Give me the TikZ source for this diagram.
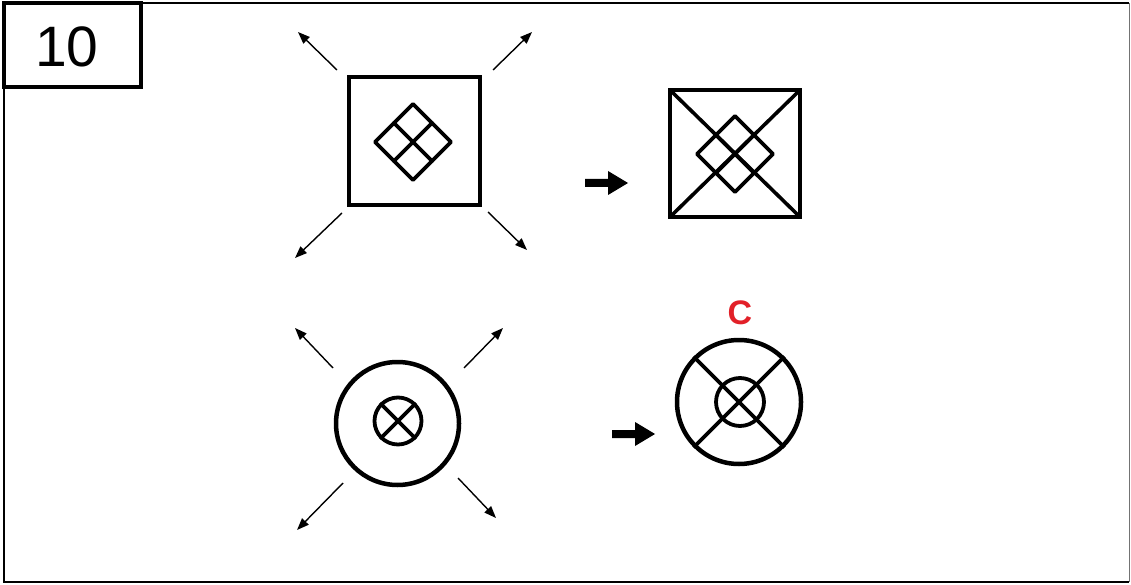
\documentclass[tikz,border=0pt]{standalone}
\usepackage{fontspec}
\setmainfont{Liberation Sans}
\usetikzlibrary{arrows.meta}
\definecolor{labelred}{RGB}{226,32,40}
\begin{document}
\begin{tikzpicture}[x=1pt,y=-1pt,
  thin arrow/.style={line width=1.4pt,-{Triangle[length=12pt,width=9pt]}},
  heavy/.style={line width=4.5pt},
  inner line/.style={line width=3.6pt,line join=round,line cap=round},
  fat arrow/.style={fill=black,draw=none}]
\useasboundingbox (0,0) rectangle (1131,585);
\fill[white] (0,0) rectangle (1131,585);
% outer frame
\draw[line width=2.8pt] (1129,3) -- (4,3) -- (4,582) -- (1129,582);
\draw[line width=1pt,black!55] (1129.5,3) -- (1129.5,582);
% number box
\draw[line width=3.4pt] (4,3) rectangle (141,87);
\node[font=\fontsize{57}{57}\selectfont] (num) at (67,47) {10};

% ---------- top row: expanding square ----------
\draw[heavy] (349,77) rectangle (480,205);
\draw[inner line] (413,104) -- (451,142) -- (413,180) -- (375,142) -- cycle;
\draw[inner line] (394,123) -- (432,161);
\draw[inner line] (432,123) -- (394,161);
\draw[thin arrow] (337,70) -- (298,32);
\draw[thin arrow] (493,70) -- (532,32);
\draw[thin arrow] (342,213) -- (295,258);
\draw[thin arrow] (488,212) -- (527,250);

% fat arrow
\fill[fat arrow] (585,179) -- (608,179) -- (608,171) -- (628,183) -- (608,195) -- (608,187) -- (585,187) -- cycle;

% result square
\draw[heavy] (670,90) rectangle (800,217);
\draw[inner line] (670,90) -- (800,217);
\draw[inner line] (800,90) -- (670,217);
\draw[inner line] (735,116) -- (773,154) -- (735,192) -- (697,154) -- cycle;
\draw[inner line] (716,135) -- (754,173);
\draw[inner line] (754,135) -- (716,173);

% ---------- bottom row: expanding circle ----------
\node[circle,draw,line width=4.5pt,minimum size=123pt,inner sep=0pt] (oc) at (397.5,423.5) {};
\node[circle,draw,line width=3.8pt,minimum size=47pt,inner sep=0pt] (ic) at (398,421) {};
\draw[line width=3.6pt] (ic.north west) -- (ic.south east);
\draw[line width=3.6pt] (ic.north east) -- (ic.south west);
\draw[thin arrow] (333,368) -- (295,328);
\draw[thin arrow] (464,368) -- (503,328);
\draw[thin arrow] (343,483) -- (297,530);
\draw[thin arrow] (458,478) -- (496,518);

\fill[fat arrow] (612,430) -- (635,430) -- (635,422) -- (655,434) -- (635,446) -- (635,438) -- (612,438) -- cycle;

\node[circle,draw,line width=4.5pt,minimum size=124pt,inner sep=0pt] (roc) at (739,402) {};
\node[circle,draw,line width=3.8pt,minimum size=48pt,inner sep=0pt] (ric) at (740,402) {};
\draw[line width=3.6pt] (roc.north west) -- (roc.south east);
\draw[line width=3.6pt] (roc.north east) -- (roc.south west);
\node[font=\bfseries\fontsize{34}{34}\selectfont,text=labelred] (lab) at (740,313) {C};
\end{tikzpicture}
\end{document}
